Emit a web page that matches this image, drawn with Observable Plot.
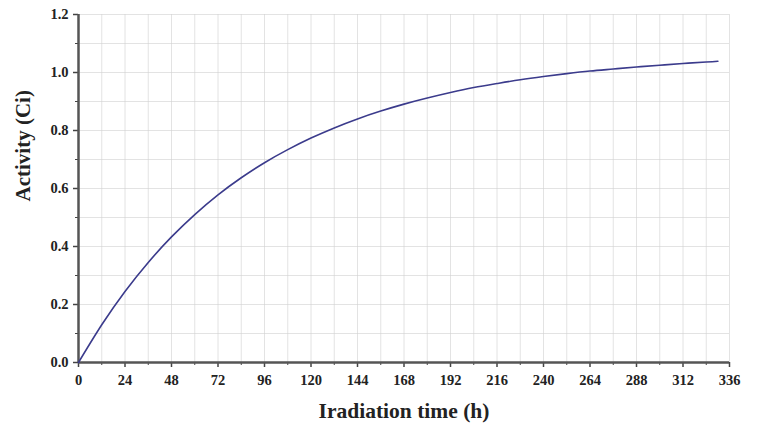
<!DOCTYPE html>
<html><head><meta charset="utf-8">
<script src="https://cdn.jsdelivr.net/npm/d3@7"></script>
<script src="https://cdn.jsdelivr.net/npm/@observablehq/plot@0.6"></script>
<style>body{margin:0;background:#fff}</style>
</head><body><div id="chart"></div>
<script>
const hours    = [0, 12, 24, 36, 48, 60, 72, 84, 96, 108, 120, 132, 144, 156, 168, 180, 192, 204, 216, 228, 240, 252, 264, 276, 288, 300, 312, 324, 330];
const activity = [0, 0.13, 0.245, 0.345, 0.433, 0.51, 0.578, 0.637, 0.689, 0.734, 0.774, 0.809, 0.84, 0.867, 0.891, 0.912, 0.931, 0.948, 0.962, 0.975, 0.986, 0.996, 1.005, 1.012, 1.019, 1.025, 1.031, 1.036, 1.039];
const xTicks = [0, 24, 48, 72, 96, 120, 144, 168, 192, 216, 240, 264, 288, 312, 336];
const xMinor = [12, 36, 60, 84, 108, 132, 156, 180, 204, 228, 252, 276, 300, 324];
const yTicks = [0, 0.2, 0.4, 0.6, 0.8, 1.0, 1.2];
const yMinor = [0.1, 0.3, 0.5, 0.7, 0.9, 1.1];
const xTitle = "Iradiation time (h)";
const yTitle = "Activity (Ci)";

const data = hours.map((h, i) => ({h, a: activity[i]}));
const font = "'Liberation Serif', 'Times New Roman', serif";

const chart = Plot.plot({
  width: 768, height: 431,
  marginLeft: 78, marginRight: 39, marginTop: 14, marginBottom: 69,
  style: {fontFamily: font, background: "#fff", color: "#222"},
  x: {domain: [0, 336]},
  y: {domain: [0, 1.2]},
  marks: [
    Plot.gridX([...xTicks, ...xMinor], {stroke: "#d0d0d0", strokeOpacity: 0.6}),
    Plot.gridY([...yTicks, ...yMinor], {stroke: "#d0d0d0", strokeOpacity: 0.6}),
    Plot.axisX(xTicks, {tickSize: 5, tickPadding: 7, fontSize: 14.5, fontWeight: "bold", stroke: "#444", strokeWidth: 1.5, label: null}),
    Plot.axisX(xMinor, {tickSize: 3, text: null, stroke: "#444", label: null}),
    Plot.axisY(yTicks, {tickSize: 5, tickPadding: 5, fontSize: 14.5, fontWeight: "bold", stroke: "#444", strokeWidth: 1.5, tickFormat: d3.format(".1f"), label: null}),
    Plot.axisY(yMinor, {tickSize: 3, text: null, stroke: "#444", label: null}),
    Plot.ruleY([0], {stroke: "#555", strokeWidth: 2.5}),
    Plot.ruleX([0], {stroke: "#555", strokeWidth: 2.5}),
    Plot.line(data, {x: "h", y: "a", curve: "natural", stroke: "#3b3b8c", strokeWidth: 1.6}),
    Plot.text([xTitle], {frameAnchor: "bottom", dy: 55, fontSize: 21.5, fontWeight: "bold", fill: "#222"}),
    Plot.text([yTitle], {frameAnchor: "left", dx: -55, dy: 13, rotate: -90, fontSize: 21, fontWeight: "bold", fill: "#222"})
  ]
});
document.getElementById("chart").append(chart);
</script>
</body></html>
